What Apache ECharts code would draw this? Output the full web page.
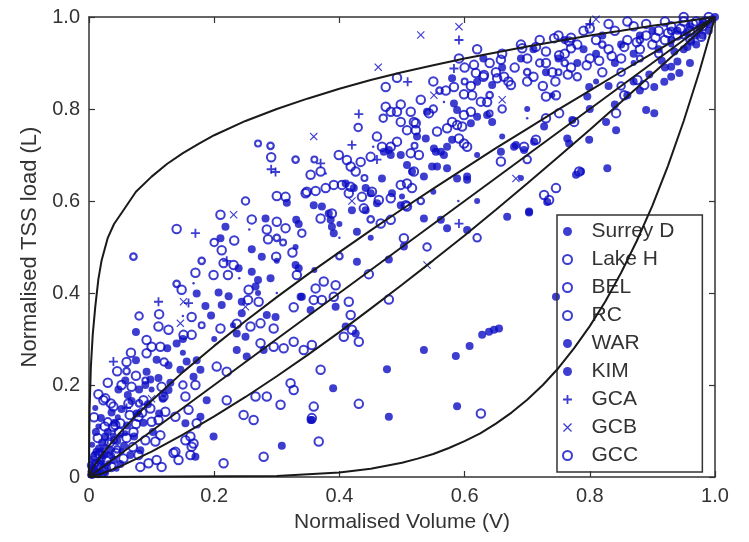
<!DOCTYPE html>
<html lang="en">
<head>
<meta charset="UTF-8">
<title>Normalised TSS load vs volume</title>
<script src="https://cdn.jsdelivr.net/npm/echarts@6/dist/echarts.min.js"></script>
<style>html,body{margin:0;padding:0;background:#fff;}</style>
</head>
<body>
<div id="main" style="width:749px;height:542px;"></div>
<script type="text/javascript">
// tick values on both axes
var ticks = [0, 0.2, 0.4, 0.6, 0.8, 1.0];
var names = ['Surrey D', 'Lake H', 'BEL', 'RC', 'WAR', 'KIM', 'GCA', 'GCB', 'GCC'];

// reference curves [V, L]
var curveA = [[0,0],[0.0005,0.1],[0.001,0.15],[0.003,0.24],[0.006,0.31],[0.01,0.37],[0.015,0.43],[0.02,0.47],[0.03,0.52],[0.04,0.55],[0.055,0.58],[0.075,0.62],[0.1,0.653],[0.125,0.681],[0.15,0.704],[0.175,0.724],[0.2,0.743],[0.25,0.774],[0.3,0.80],[0.35,0.823],[0.4,0.844],[0.45,0.863],[0.5,0.88],[0.55,0.895],[0.6,0.91],[0.65,0.923],[0.7,0.936],[0.75,0.948],[0.8,0.96],[0.85,0.97],[0.9,0.981],[0.95,0.99],[1,1]];
var curveB = [[0,0],[0.005,0.016],[0.01,0.028],[0.02,0.047],[0.035,0.073],[0.05,0.097],[0.075,0.133],[0.1,0.166],[0.15,0.228],[0.2,0.285],[0.25,0.339],[0.3,0.391],[0.35,0.441],[0.4,0.489],[0.45,0.536],[0.5,0.582],[0.55,0.627],[0.6,0.671],[0.65,0.715],[0.7,0.757],[0.75,0.799],[0.8,0.84],[0.85,0.881],[0.9,0.921],[0.95,0.961],[1,1]];
var curveC = [[0,0],[1,1]];
var curveD = [[0,0],[0.02,0.007],[0.05,0.023],[0.1,0.055],[0.15,0.092],[0.2,0.132],[0.25,0.174],[0.3,0.219],[0.35,0.266],[0.4,0.315],[0.45,0.366],[0.5,0.418],[0.55,0.471],[0.6,0.525],[0.65,0.581],[0.7,0.638],[0.75,0.696],[0.8,0.755],[0.85,0.815],[0.9,0.876],[0.95,0.937],[1,1]];
var curveE = [[0,0],[0.3,0.002],[0.4,0.01],[0.45,0.018],[0.5,0.031],[0.525,0.04],[0.55,0.05],[0.575,0.063],[0.6,0.078],[0.625,0.095],[0.65,0.116],[0.675,0.14],[0.7,0.168],[0.725,0.2],[0.75,0.237],[0.775,0.28],[0.8,0.328],[0.825,0.382],[0.85,0.444],[0.875,0.513],[0.9,0.59],[0.925,0.677],[0.95,0.774],[0.975,0.881],[1,1]];

var surreyD = [[0.316,0.596],[0.282,0.562],[0.218,0.544],[0.210,0.519],[0.331,0.559],[0.335,0.550],[0.260,0.495],[0.276,0.479],[0.239,0.454],[0.260,0.446],[0.290,0.432],[0.270,0.428],[0.266,0.414],[0.330,0.461],[0.335,0.454],[0.172,0.399],[0.207,0.401],[0.223,0.393],[0.186,0.372],[0.212,0.374],[0.244,0.381],[0.195,0.351],[0.244,0.356],[0.284,0.352],[0.298,0.348],[0.340,0.392],[0.075,0.315],[0.236,0.312],[0.250,0.305],[0.075,0.254],[0.092,0.229],[0.111,0.215],[0.127,0.243],[0.146,0.233],[0.156,0.251],[0.172,0.254],[0.178,0.233],[0.167,0.218],[0.236,0.276],[0.252,0.262],[0.279,0.276],[0.354,0.124],[0.308,0.068],[0.199,0.088],[0.188,0.167],[0.178,0.131],[0.090,0.200],[0.127,0.189],[0.154,0.117],[0.170,0.044],
  [0.580,0.867],[0.620,0.859],[0.644,0.852],[0.583,0.812],[0.588,0.798],[0.620,0.783],[0.636,0.787],[0.644,0.772],[0.610,0.769],[0.524,0.740],[0.538,0.736],[0.540,0.794],[0.551,0.714],[0.562,0.707],[0.572,0.718],[0.580,0.733],[0.479,0.711],[0.482,0.700],[0.471,0.707],[0.498,0.700],[0.508,0.678],[0.516,0.664],[0.554,0.707],[0.556,0.675],[0.567,0.700],[0.604,0.653],[0.604,0.646],[0.658,0.707],[0.679,0.718],[0.359,0.591],[0.372,0.588],[0.410,0.638],[0.423,0.628],[0.442,0.628],[0.450,0.617],[0.468,0.649],[0.484,0.617],[0.498,0.591],[0.535,0.653],[0.548,0.675],[0.572,0.671],[0.588,0.649],
  [0.682,0.722],[0.695,0.711],[0.711,0.729],[0.727,0.762],[0.772,0.776],[0.799,0.848],[0.796,0.827],[0.826,0.772],[0.842,0.754],[0.764,0.736],[0.767,0.725],[0.799,0.733],[0.890,0.798],[0.903,0.791],[0.903,0.848],[0.919,0.859],[0.930,0.892],[0.943,0.878],[0.940,0.903],[0.828,0.671],[0.778,0.657],[0.786,0.664],[0.703,0.575],[0.956,0.935],[0.962,0.946],
  [0.668,0.566],[0.703,0.577],[0.732,0.598],[0.746,0.392],[0.628,0.309],[0.639,0.316],[0.647,0.320],[0.655,0.323],[0.608,0.285],[0.586,0.263],[0.535,0.276],[0.476,0.234],[0.588,0.154],[0.479,0.131],[0.390,0.193],[0.356,0.124],[0.428,0.468],[0.479,0.473],[0.394,0.370],[0.410,0.327],[0.426,0.312],[0.338,0.392],[0.354,0.363],[0.503,0.501],[0.535,0.562],[0.562,0.559],[0.572,0.541],[0.604,0.537],[0.428,0.533],[0.420,0.580],[0.442,0.580],[0.460,0.595],[0.383,0.573],[0.386,0.559],[0.388,0.544],[0.391,0.530],
  [0.63,0.91],[0.66,0.89],[0.69,0.91],[0.71,0.93],[0.73,0.88],[0.75,0.91],[0.76,0.95],[0.78,0.90],[0.79,0.93],[0.81,0.92],[0.82,0.96],[0.84,0.90],[0.85,0.94],[0.87,0.92],[0.88,0.96],[0.90,0.97],[0.91,0.93],[0.93,0.95],[0.94,0.97],[0.96,0.98],[0.97,0.96],[0.98,0.99],[0.99,0.985],[1.0,1.0],[0.995,0.995],[0.975,0.975],[0.955,0.965],[0.935,0.925],[0.915,0.905],[0.895,0.875],[0.87,0.86],[0.86,0.83],[0.84,0.81],[0.95,0.93],[0.97,0.94],[0.98,0.96],[0.99,0.97],[0.92,0.89],[0.88,0.84],[0.80,0.80],[0.83,0.85],[0.93,0.87],[0.96,0.90],
  [0.004,0.006],[0.008,0.018],[0.013,0.009],[0.018,0.028],[0.007,0.038],[0.024,0.048],[0.029,0.018],[0.034,0.058],[0.012,0.055],[0.040,0.037],[0.045,0.078],[0.050,0.028],[0.021,0.075],[0.030,0.098],[0.056,0.068],[0.061,0.112],[0.066,0.048],[0.072,0.088],[0.011,0.098],[0.041,0.118],[0.076,0.138],[0.082,0.058],[0.087,0.118],[0.094,0.158],[0.102,0.098],[0.052,0.148],[0.019,0.128],[0.062,0.178],[0.112,0.138],[0.003,0.025],[0.016,0.062],[0.026,0.088],[0.036,0.140],[0.047,0.190],[0.058,0.210],[0.068,0.165],[0.080,0.190],[0.098,0.212],[0.108,0.255],[0.118,0.170],[0.130,0.205],[0.140,0.290],[0.150,0.300],[0.125,0.280]];

var lakeH = [[0.291,0.695],[0.300,0.611],[0.314,0.609],[0.210,0.570],[0.260,0.560],[0.300,0.555],[0.314,0.541],[0.284,0.538],[0.140,0.539],[0.232,0.514],[0.286,0.517],[0.212,0.493],[0.215,0.465],[0.299,0.479],[0.325,0.488],[0.231,0.461],[0.170,0.444],[0.199,0.439],[0.222,0.439],[0.332,0.439],[0.148,0.407],[0.255,0.407],[0.254,0.385],[0.271,0.381],[0.327,0.369],[0.112,0.354],[0.164,0.348],[0.111,0.327],[0.127,0.320],[0.151,0.309],[0.164,0.309],[0.236,0.333],[0.258,0.327],[0.210,0.323],[0.274,0.334],[0.295,0.323],[0.092,0.298],[0.100,0.283],[0.114,0.283],[0.067,0.270],[0.092,0.269],[0.204,0.240],[0.220,0.229],[0.274,0.291],[0.295,0.283],[0.311,0.280],[0.327,0.294],[0.370,0.233],[0.322,0.204],[0.327,0.189],[0.359,0.153],[0.356,0.128],[0.367,0.077],[0.279,0.044],[0.215,0.030],[0.263,0.124],[0.247,0.135],[0.220,0.167],[0.266,0.175],[0.284,0.175],[0.306,0.157],[0.162,0.088],[0.167,0.073],[0.135,0.052],[0.108,0.037],[0.082,0.022],[0.039,0.109],[0.050,0.117],[0.071,0.098],[0.023,0.167],[0.039,0.153],
  [0.052,0.200],[0.068,0.196],[0.026,0.171],[0.063,0.160],[0.087,0.167],[0.116,0.196],[0.119,0.175],[0.098,0.149],[0.079,0.131],[0.111,0.124],[0.122,0.142],[0.138,0.131],[0.042,0.113],[0.154,0.175],[0.170,0.200],[0.159,0.146],[0.172,0.117],[0.106,0.077],[0.138,0.055],[0.154,0.080],[0.164,0.066],[0.162,0.048],[0.143,0.037],[0.116,0.022],[0.095,0.030],[0.079,0.048],[0.114,0.091],
  [0.591,0.910],[0.492,0.868],[0.474,0.848],[0.615,0.896],[0.618,0.878],[0.631,0.874],[0.658,0.907],[0.652,0.867],[0.663,0.870],[0.674,0.852],[0.583,0.848],[0.599,0.832],[0.612,0.830],[0.626,0.816],[0.636,0.815],[0.498,0.810],[0.474,0.805],[0.482,0.794],[0.492,0.794],[0.514,0.794],[0.519,0.772],[0.543,0.791],[0.599,0.787],[0.580,0.772],[0.596,0.762],[0.610,0.794],[0.460,0.740],[0.468,0.718],[0.482,0.718],[0.492,0.729],[0.498,0.772],[0.508,0.754],[0.522,0.769],[0.522,0.754],[0.556,0.751],[0.572,0.758],[0.588,0.765],[0.591,0.736],[0.599,0.725],[0.604,0.718],[0.399,0.700],[0.412,0.689],[0.434,0.685],[0.450,0.696],[0.418,0.675],[0.426,0.664],[0.514,0.704],[0.527,0.700],[0.519,0.664],[0.658,0.686],[0.354,0.657],[0.370,0.664],[0.348,0.620],[0.362,0.622],[0.378,0.628],[0.391,0.635],[0.404,0.635],[0.415,0.617],[0.418,0.631],[0.436,0.609],[0.439,0.584],[0.452,0.620],[0.463,0.602],[0.482,0.606],[0.498,0.635],[0.508,0.638],[0.516,0.628],[0.506,0.591],
  [0.692,0.932],[0.714,0.935],[0.730,0.925],[0.743,0.954],[0.767,0.947],[0.751,0.917],[0.770,0.932],[0.730,0.827],[0.746,0.830],[0.751,0.791],[0.730,0.780],[0.714,0.733],[0.695,0.718],[0.775,0.772],[0.855,0.830],[0.842,0.791],[0.876,0.863],[0.887,0.852],[0.783,0.664],[0.746,0.628],[0.727,0.613],[0.735,0.602],[0.978,0.957],[0.626,0.138],[0.431,0.159],[0.479,0.386],[0.447,0.441],[0.362,0.410],[0.375,0.425],[0.394,0.417],[0.359,0.385],[0.372,0.385],[0.391,0.392],[0.415,0.381],[0.418,0.352],[0.407,0.305],[0.420,0.320],[0.431,0.294],[0.343,0.276],[0.356,0.287],[0.503,0.519],[0.482,0.559],[0.508,0.588],[0.466,0.551],[0.346,0.617],[0.388,0.573],[0.370,0.562],
  [0.62,0.93],[0.64,0.90],[0.66,0.92],[0.68,0.89],[0.69,0.94],[0.70,0.91],[0.71,0.87],[0.72,0.95],[0.73,0.90],[0.74,0.88],[0.75,0.96],[0.76,0.92],[0.77,0.89],[0.78,0.94],[0.79,0.97],[0.80,0.91],[0.81,0.95],[0.82,0.88],[0.83,0.93],[0.84,0.97],[0.85,0.91],[0.86,0.95],[0.87,0.98],[0.88,0.93],[0.89,0.96],[0.90,0.94],[0.91,0.97],[0.92,0.95],[0.93,0.98],[0.94,0.96],[0.95,0.99],[0.96,0.97],[0.97,0.99],[0.98,0.98],[0.99,1.0],[0.985,0.99],[0.965,0.985],[0.945,0.975],[0.925,0.965],[0.905,0.955],[0.875,0.945],[0.855,0.935],[0.835,0.915],[0.815,0.905],[0.795,0.895],[0.765,0.875],[0.745,0.86],[0.725,0.85],[0.70,0.86],[0.67,0.86],[0.65,0.88],[0.63,0.87],[0.60,0.89],[0.61,0.85],[0.57,0.84],[0.55,0.86],[0.53,0.82],[0.77,0.955],[0.80,0.975],[0.83,0.985],[0.86,0.99],[0.89,0.985],[0.92,0.99],[0.95,1.0],
  [0.006,0.012],[0.014,0.022],[0.022,0.012],[0.010,0.045],[0.028,0.035],[0.036,0.022],[0.017,0.050],[0.033,0.075],[0.043,0.052],[0.055,0.040],[0.060,0.085],[0.048,0.098],[0.025,0.110],[0.070,0.065],[0.014,0.085],[0.008,0.130],[0.035,0.160],[0.075,0.115],[0.090,0.080],[0.065,0.135],[0.085,0.140],[0.100,0.120],[0.030,0.205],[0.045,0.230],[0.015,0.180],[0.075,0.220],[0.060,0.250]];

var bel = [[0.071,0.479],[0.290,0.720],[0.330,0.690],[0.560,0.840],[0.640,0.830],[0.700,0.880],[0.760,0.900],[0.820,0.940],[0.880,0.950],[0.930,0.970],[0.300,0.520],[0.180,0.470],[0.140,0.420],[0.060,0.230],[0.045,0.060],[0.020,0.040],[0.080,0.160],[0.400,0.480],[0.450,0.560],[0.530,0.600]];
var rc = [[0.080,0.350],[0.200,0.510],[0.250,0.600],[0.340,0.530],[0.430,0.760],[0.470,0.780],[0.550,0.800],[0.660,0.800],[0.720,0.900],[0.780,0.870],[0.850,0.880],[0.910,0.920],[0.960,0.950],[0.120,0.250],[0.030,0.120],[0.150,0.200],[0.620,0.520],[0.700,0.690],[0.850,0.850],[0.540,0.500]];
var war = [[0.256,0.538],[0.240,0.432],[0.167,0.421],[0.567,0.815],[0.454,0.718],[0.378,0.660],[0.150,0.350],[0.300,0.400],[0.590,0.600],[0.700,0.780],[0.050,0.060],[0.400,0.520]];
var kim = [[0.200,0.300],[0.230,0.330],[0.120,0.180],[0.150,0.270],[0.300,0.470],[0.330,0.500],[0.400,0.550],[0.450,0.520],[0.500,0.610],[0.550,0.620],[0.620,0.700],[0.660,0.740],[0.700,0.800],[0.740,0.830],[0.050,0.090],[0.080,0.140],[0.030,0.050],[0.100,0.190],[0.270,0.400],[0.360,0.450],[0.620,0.600],[0.690,0.650],[0.810,0.860],[0.870,0.900],[0.930,0.940],[0.020,0.010],
  [0.002,0.004],[0.005,0.002],[0.009,0.008],[0.003,0.012],[0.011,0.016],[0.015,0.004],[0.006,0.022],[0.019,0.014],[0.023,0.026],[0.014,0.034],[0.027,0.008],[0.031,0.030],[0.009,0.050],[0.020,0.058],[0.037,0.046],[0.044,0.018],[0.026,0.066],[0.005,0.070],[0.038,0.090],[0.015,0.110],[0.052,0.056],[0.058,0.095],[0.046,0.130],[0.010,0.150]];
var gca = [[0.291,0.669],[0.170,0.530],[0.111,0.381],[0.159,0.378],[0.039,0.251],[0.591,0.950],[0.583,0.888],[0.509,0.859],[0.431,0.789],[0.420,0.722],[0.370,0.682],[0.591,0.551],[0.298,0.663],[0.220,0.470],[0.060,0.150],[0.030,0.080],[0.800,0.985],[0.460,0.690]];
var gcb = [[0.231,0.570],[0.151,0.381],[0.146,0.334],[0.591,0.979],[0.530,0.961],[0.462,0.891],[0.551,0.830],[0.660,0.820],[0.359,0.740],[0.682,0.649],[0.540,0.461],[0.810,0.995],[0.250,0.370],[0.100,0.170],[0.420,0.600],[0.020,0.040]];
var gcc = [[0.270,0.725],[0.360,0.690],[0.640,0.790],[0.440,0.650],[0.180,0.330],[0.090,0.210],[0.040,0.080],[0.010,0.030],[0.600,0.860],[0.750,0.880],[0.880,0.910],[0.950,0.960],[0.520,0.720],[0.310,0.510]];

var blue = '#0c0cc4';
var font = 'Liberation Sans, Arial, sans-serif';
var plusPath = 'path://M4,0H6V4H10V6H6V10H4V6H0V4H4Z';
var crossPath = 'path://M1,0L5,4L9,0L10,1L6,5L10,9L9,10L5,6L1,10L0,9L4,5L0,1Z';

function tickFmt(v) {
    return v === 0 ? '0' : v.toFixed(1);
}

function frameAxis(pos, showLabel, name) {
    return {
        type: 'value', position: pos, min: 0, max: 1, interval: 0.2,
        axisLine: { show: true, onZero: false, lineStyle: { color: '#333', width: 1.5 } },
        axisTick: { show: true, inside: true, length: 6, lineStyle: { color: '#333', width: 1.2 } },
        axisLabel: { show: showLabel, formatter: tickFmt, fontSize: 20, color: '#333', fontFamily: font, margin: 9 },
        splitLine: { show: false },
        name: name || '', nameLocation: 'middle',
        nameTextStyle: { fontSize: 21, color: '#333', fontFamily: font }
    };
}

function scatter(name, data, symbol, size, filled, bw) {
    return {
        name: name, type: 'scatter', data: data, symbol: symbol, symbolSize: size,
        xAxisIndex: 0, yAxisIndex: 0,
        itemStyle: filled ? { color: blue } : { color: 'rgba(0,0,0,0)', borderColor: blue, borderWidth: bw }
    };
}

function curve(data) {
    return {
        type: 'line', data: data, showSymbol: false, symbol: 'none', smooth: false,
        xAxisIndex: 0, yAxisIndex: 0, z: 5, silent: true,
        lineStyle: { color: '#1a1a1a', width: 2 }
    };
}

var xa = frameAxis('bottom', true, 'Normalised Volume (V)');
xa.nameGap = 35;
var ya = frameAxis('left', true, 'Normalised TSS load (L)');
ya.nameGap = 43;
ya.nameTextStyle.fontSize = 22;

var myChart = echarts.init(document.getElementById('main'));
myChart.setOption({
    animation: false,
    backgroundColor: '#fff',
    grid: { left: 89, right: 34, top: 17, bottom: 65 },
    xAxis: [xa, frameAxis('top', false)],
    yAxis: [ya, frameAxis('right', false)],
    legend: {
        data: names, orient: 'vertical', left: 557, top: 215,
        padding: [6, 28, 6, 5], itemGap: 7, itemWidth: 38, itemHeight: 9,
        borderColor: '#333', borderWidth: 1.5,
        textStyle: { fontSize: 21, color: '#333', fontFamily: font }
    },
    series: [
        scatter('Surrey D', surreyD, 'circle', 8, true),
        scatter('Lake H', lakeH, 'circle', 8.5, false, 2),
        scatter('BEL', bel, 'circle', 6.5, false, 2.2),
        scatter('RC', rc, 'circle', 7.5, false, 2),
        scatter('WAR', war, 'circle', 2.5, true),
        scatter('KIM', kim, 'circle', 6, true),
        scatter('GCA', gca, plusPath, 9, true),
        scatter('GCB', gcb, crossPath, 8, true),
        scatter('GCC', gcc, 'circle', 6, false, 2),
        curve(curveA), curve(curveB), curve(curveC), curve(curveD), curve(curveE)
    ]
});
</script>
</body>
</html>
